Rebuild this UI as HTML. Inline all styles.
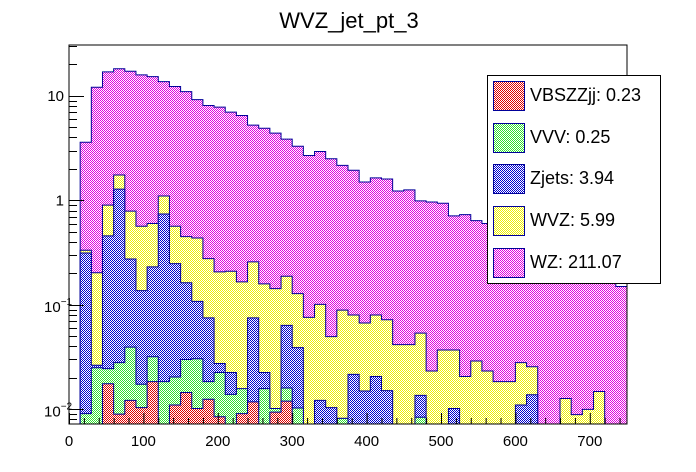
<!DOCTYPE html>
<html><head><meta charset="utf-8"><style>
body{margin:0;background:#fff;}
svg{display:block;font-family:"Liberation Sans",Arial,sans-serif;}
</style></head><body>
<svg id="c" width="696" height="472" viewBox="0 0 696 472">
<defs>
<pattern id="pWZ" width="2" height="2" patternUnits="userSpaceOnUse"><rect width="2" height="2" fill="#fff"/><rect width="1" height="1" fill="#e000e0"/><rect x="1" y="1" width="1" height="1" fill="#e000e0"/></pattern>
<pattern id="pWVZ" width="2" height="2" patternUnits="userSpaceOnUse"><rect width="2" height="2" fill="#fff"/><rect width="1" height="1" fill="#f0f000"/><rect x="1" y="1" width="1" height="1" fill="#f0f000"/></pattern>
<pattern id="pZj" width="2" height="2" patternUnits="userSpaceOnUse"><rect width="2" height="2" fill="#fff"/><rect width="1" height="1" fill="#0000d0"/><rect x="1" y="1" width="1" height="1" fill="#0000d0"/></pattern>
<pattern id="pVVV" width="2" height="2" patternUnits="userSpaceOnUse"><rect width="2" height="2" fill="#fff"/><rect width="1" height="1" fill="#30e030"/><rect x="1" y="1" width="1" height="1" fill="#30e030"/></pattern>
<pattern id="pVBS" width="2" height="2" patternUnits="userSpaceOnUse"><rect width="2" height="2" fill="#fff"/><rect width="1" height="1" fill="#e00000"/><rect x="1" y="1" width="1" height="1" fill="#e00000"/></pattern>
</defs>
<text x="349" y="28" font-size="22" text-anchor="middle">WVZ_jet_pt_3</text>
<g id="bars"></g>
<rect x="69" y="45" width="558" height="379" fill="none" stroke="#000" stroke-width="1"/>
<g id="axes"></g>
<g>
<rect x="487.5" y="75.5" width="173" height="208" fill="#fff" stroke="#000"/>
<g><rect x="493.5" y="81.5" width="31" height="29" fill="url(#pVBS)" stroke="#000099"/><text x="530" y="101" font-size="18">VBSZZjj: 0.23</text></g>
<g><rect x="493.5" y="123.5" width="31" height="29" fill="url(#pVVV)" stroke="#000099"/><text x="530" y="143" font-size="18">VVV: 0.25</text></g>
<g><rect x="493.5" y="164.5" width="31" height="29" fill="url(#pZj)" stroke="#000099"/><text x="530" y="184" font-size="18">Zjets: 3.94</text></g>
<g><rect x="493.5" y="206.5" width="31" height="29" fill="url(#pWVZ)" stroke="#000099"/><text x="530" y="226" font-size="18">WVZ: 5.99</text></g>
<g><rect x="493.5" y="248.5" width="31" height="29" fill="url(#pWZ)" stroke="#000099"/><text x="530" y="268" font-size="18">WZ: 211.07</text></g>
</g>
</svg>
<script>
// bin width 15, 50 bins over 0..750; cumulative stack tops per layer
const binWidth = 15;
const stackWZ = [0,3.6,12.1,17,18.2,17.2,15.9,15.3,13.7,12.3,11.0,9.2,8.1,7.8,7.0,6.5,5.25,4.9,4.4,3.86,3.3,2.69,2.94,2.5,2.16,1.94,1.5,1.64,1.6,1.23,1.26,0.99,0.965,0.94,0.71,0.73,0.64,0.6,0.52,0.46,0.42,0.38,0.34,0.30,0.26,0.24,0.21,0.19,0.17,0.15];
const stackWVZ = [0,0.333,0.203,0.90,1.75,0.79,0.565,0.60,1.1,0.565,0.45,0.437,0.277,0.207,0.21,0.166,0.258,0.159,0.143,0.188,0.128,0.076,0.101,0.0496,0.089,0.08,0.067,0.08,0.072,0.0416,0.0416,0.0537,0.0233,0.037,0.037,0.0206,0.029,0.0233,0.0184,0.0184,0.028,0.0256,0,0,0.0127,0.0089,0.010,0.0148,0,0];
const stackZjets = [0,0.314,0.0264,0.457,1.28,0.275,0.137,0.231,0.74,0.248,0.163,0.108,0.075,0.0275,0.0225,0.0139,0.075,0.0225,0.0102,0.0636,0.039,0,0.0122,0.0104,0.0082,0.0216,0.015,0.0206,0.0151,0,0,0.0136,0,0,0.0102,0,0,0,0,0,0.011,0.0138,0,0,0,0,0,0,0,0];
const stackVVV = [0,0.0091,0.025,0.0245,0.028,0.0394,0.0174,0.0319,0.0184,0.0204,0.030,0.0305,0.0184,0.0225,0.0139,0.0158,0.0100,0.0158,0.0102,0.016,0.0103,0,0,0,0.0082,0,0,0,0,0,0,0.0084,0,0,0,0,0,0,0,0,0,0,0,0,0,0,0,0,0,0];
const stackVBS = [0,0,0,0.0176,0.0090,0.0122,0.0104,0.0184,0,0.011,0.0145,0.0102,0.0125,0.0085,0,0.0091,0.0118,0,0.0094,0.012,0,0,0,0,0,0,0,0,0,0,0,0,0,0,0,0,0,0,0,0,0,0,0,0,0,0,0,0,0,0];
const xTicks = [0,100,200,300,400,500,600,700];
const yDecades = [-2,-1,0,1];
const yTickLabels = ["10","10","1","10"];

const X0=69,X1=627,Y0=424,Y1=45,XMIN=0,XMAX=750;
const LMIN=Math.log10(0.00724), LMAX=Math.log10(30.7);
const xs=v=>X0+(v-XMIN)/(XMAX-XMIN)*(X1-X0);
const ys=v=>{if(v<=0)return Y0;let l=Math.log10(v);l=Math.max(LMIN,Math.min(LMAX,l));return Y0-(l-LMIN)/(LMAX-LMIN)*(Y0-Y1);};
const NS='http://www.w3.org/2000/svg';
const bars=document.getElementById('bars'), axes=document.getElementById('axes');
function layer(arr,fill,name){
  let d='M'+xs(0)+','+Y0;
  arr.forEach((v,i)=>{const y=ys(v);d+=' L'+xs(i*binWidth)+','+y+' L'+xs((i+1)*binWidth)+','+y;});
  d+=' L'+xs(arr.length*binWidth)+','+Y0+' Z';
  const p=document.createElementNS(NS,'path');
  p.setAttribute('d',d);p.setAttribute('fill',fill);p.setAttribute('stroke','#000099');p.setAttribute('stroke-width','1');
  
  
  bars.appendChild(p);
}
layer(stackWZ,'url(#pWZ)','hist-wz');
layer(stackWVZ,'url(#pWVZ)','hist-wvz');
layer(stackZjets,'url(#pZj)','hist-zjets');
layer(stackVVV,'url(#pVVV)','hist-vvv');
layer(stackVBS,'url(#pVBS)','hist-vbszzjj');
function line(x1,y1,x2,y2){const l=document.createElementNS(NS,'line');l.setAttribute('x1',x1);l.setAttribute('y1',y1);l.setAttribute('x2',x2);l.setAttribute('y2',y2);l.setAttribute('stroke','#000');


axes.appendChild(l);}
function text(x,y,s,anchor,size,name){const t=document.createElementNS(NS,'text');t.setAttribute('x',x);t.setAttribute('y',y);t.setAttribute('text-anchor',anchor);t.setAttribute('font-size',size);t.textContent=s;


axes.appendChild(t);return t;}
for(let v=0;v<=XMAX;v+=20){const x=xs(v)+0.5;line(x,Y0,x,Y0-(v%100===0?11:6));}
xTicks.forEach(v=>text(xs(v),446,String(v),'middle',15,'x-tick-label'));
for(let d=-3;d<=1;d++){for(let m=1;m<=9;m++){const v=m*Math.pow(10,d);const l=Math.log10(v);if(l<LMIN||l>LMAX)continue;const y=Math.round(ys(v))+0.5;line(X0,y,X0+(m===1?15:8),y);}}
yDecades.forEach((d,i)=>{const y=ys(Math.pow(10,d))+5;
  if(d<0){const t=text(58,y+2,yTickLabels[i],'end',15,'y-tick-label');const s=document.createElementNS(NS,'tspan');s.setAttribute('dy','-7');s.setAttribute('font-size','10');s.textContent='\u2212'+(-d);t.appendChild(s);t.setAttribute('x',44);t.setAttribute('text-anchor','start');}
  else text(64,y,yTickLabels[i],'end',15,'y-tick-label');
});
</script>
</body></html>
